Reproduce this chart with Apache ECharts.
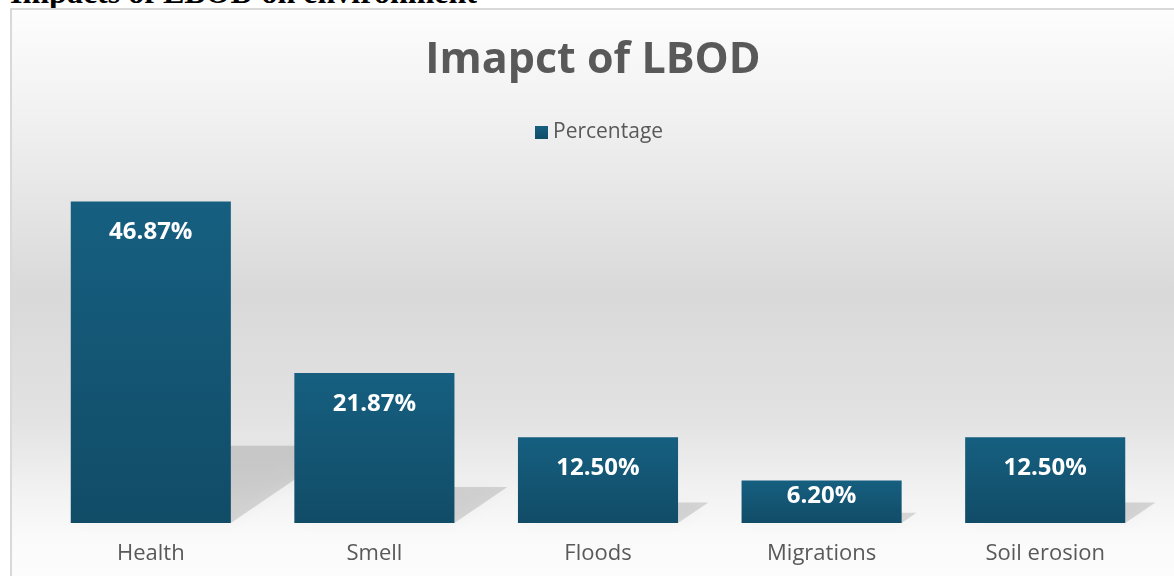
<!DOCTYPE html>
<html>
<head>
<meta charset="utf-8">
<script src="https://cdn.jsdelivr.net/npm/echarts@6/dist/echarts.min.js"></script>
<style>
  html, body { margin: 0; padding: 0; width: 1174px; height: 576px; overflow: hidden; background: #fff; }
  .doc-heading { position: absolute; left: 10px; top: -24px; font: bold 32px/1 "Liberation Serif", serif; color: #000; white-space: nowrap; }
  .frame { position: absolute; left: 10px; top: 8px; width: 1170px; height: 580px; border-left: 2px solid #d9d9d9; border-top: 2px solid #d9d9d9; }
  #chart { position: absolute; left: 12px; top: 10px; width: 1162px; height: 566px; }
</style>
</head>
<body>
<div class="doc-heading">Impacts of LBOD on environment</div>
<div class="frame"></div>
<div id="chart"></div>
<script>
const categories = ['Health', 'Smell', 'Floods', 'Migrations', 'Soil erosion']
const percentage = [46.87, 21.87, 12.5, 6.2, 12.5]
const seriesName = 'Percentage'
const chartTitle = 'Imapct of LBOD'

const chart = echarts.init(document.getElementById('chart'))

const barWidthRatio = 0.716

// skewed drop shadow behind each bar
const renderShadow = (params, api) => {
  const i = api.value(0)
  const v = api.value(1)
  const base = api.coord([i, 0])
  const top = api.coord([i, v])
  const w = api.size([1, 0])[0] * barWidthRatio
  const h = base[1] - top[1]
  const dy = h * 0.24
  const dx = dy / 0.68
  const x0 = base[0] - w / 2
  const x1 = base[0] + w / 2
  return {
    type: 'polygon',
    shape: { points: [[x0, base[1]], [x1, base[1]], [x1 + dx, base[1] - dy], [x0 + dx, base[1] - dy]] },
    style: { fill: 'rgba(0,0,0,0.13)', shadowBlur: 16, shadowColor: 'rgba(0,0,0,0.2)' }
  }
}

// short bars keep their label closer to the top edge
const barData = percentage.map(v => (v < 8 ? { value: v, label: { distance: 4 } } : v))

chart.setOption({
  backgroundColor: new echarts.graphic.LinearGradient(0, 0, 0, 1, [
    { offset: 0, color: '#fdfdfd' },
    { offset: 0.2, color: '#f0f0f0' },
    { offset: 0.5, color: '#d9d9d9' },
    { offset: 0.72, color: '#e2e2e2' },
    { offset: 0.86, color: '#f3f3f3' },
    { offset: 0.93, color: '#fafafa' },
    { offset: 1, color: '#fcfcfc' }
  ]),
  title: {
    text: chartTitle,
    left: 'center',
    top: 24,
    padding: [5, 0, 5, 12],
    textStyle: { fontFamily: 'Open Sans', fontWeight: 'bold', fontSize: 43, color: '#595959' }
  },
  legend: {
    data: [seriesName],
    top: 107,
    left: 518,
    icon: 'rect',
    itemWidth: 13,
    itemHeight: 13,
    itemGap: 6,
    textStyle: { fontFamily: 'Open Sans', fontSize: 21, color: '#595959' }
  },
  grid: { left: 27, right: 17, top: 170, bottom: 53 },
  xAxis: {
    type: 'category',
    data: categories,
    axisLine: { show: false },
    axisTick: { show: false },
    axisLabel: { fontFamily: 'Open Sans', fontSize: 22, color: '#595959', margin: 20 }
  },
  yAxis: {
    type: 'value',
    min: 0,
    max: 50,
    show: false,
    splitLine: { show: false }
  },
  series: [
    {
      name: 'shadow',
      type: 'custom',
      renderItem: renderShadow,
      data: percentage.map((v, i) => [i, v]),
      z: 1,
      silent: true
    },
    {
      name: seriesName,
      type: 'bar',
      data: barData,
      barCategoryGap: '28.4%',
      z: 2,
      itemStyle: {
        color: new echarts.graphic.LinearGradient(0, 0, 0, 1, [
          { offset: 0, color: '#165f80' },
          { offset: 1, color: '#114c67' }
        ])
      },
      label: {
        show: true,
        position: 'insideTop',
        distance: 19,
        formatter: p => p.value.toFixed(2) + '%',
        fontFamily: 'Open Sans',
        fontWeight: 'bold',
        fontSize: 24,
        color: '#ffffff'
      }
    }
  ]
})

window.addEventListener('resize', () => chart.resize())
</script>
</body>
</html>
